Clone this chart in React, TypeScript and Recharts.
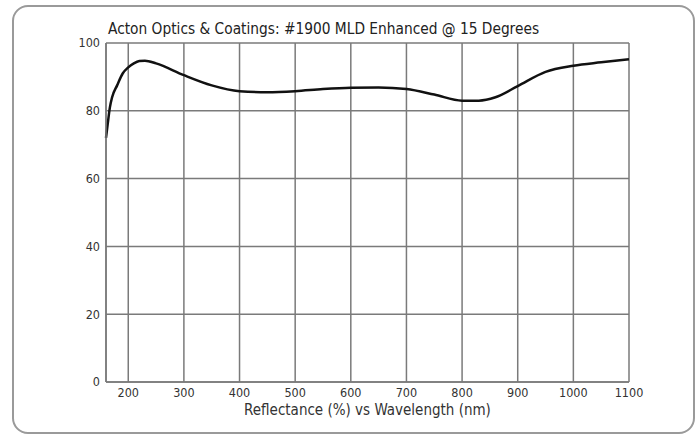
import { LineChart, Line, XAxis, YAxis, CartesianGrid } from 'recharts';

const wavelengths = [
  160, 163, 167, 171, 180, 190, 200, 210, 220, 230, 250, 300, 350, 400, 450, 500,
  550, 600, 650, 700, 750, 800, 830, 860, 900, 950, 1000, 1050, 1100,
];
const reflectance = [
  72, 76, 81, 84, 87.5, 91, 92.8, 94, 94.7, 94.8, 94, 90.5, 87.5, 85.8, 85.5, 85.8,
  86.4, 86.8, 86.9, 86.4, 84.8, 83, 83, 84, 87.3, 91.5, 93.3, 94.3, 95.2,
];
const xTicks = [200, 300, 400, 500, 600, 700, 800, 900, 1000, 1100];
const yTicks = [0, 20, 40, 60, 80, 100];

const title = 'Acton Optics & Coatings: #1900 MLD Enhanced @ 15 Degrees';
const xLabel = 'Reflectance (%)  vs  Wavelength (nm)';

const data = wavelengths.map((w, i) => ({ w, r: reflectance[i] }));

const FONT = '"Liberation Sans Narrow", "DejaVu Sans Condensed", "Open Sans", sans-serif';

export default function App() {
  return (
    <div style={{ position: 'absolute', left: 0, top: 0, width: 697, height: 434, background: '#fff' }}>
      <div
        style={{
          position: 'absolute', left: 12, top: 5, width: 679, height: 425,
          border: '2px solid #9a9a9a', borderRadius: 16,
        }}
      />
      <div
        style={{
          position: 'absolute', left: 108, top: 20, fontFamily: FONT, fontSize: 15.3,
          color: '#222', whiteSpace: 'pre',
        }}
      >
        {title}
      </div>
      <div style={{ position: 'absolute', left: 0, top: 0 }}>
        <LineChart width={697} height={434} data={data} margin={{ top: 43, right: 68, bottom: 22, left: 76 }}>
          <CartesianGrid stroke="#7a7a7a" strokeWidth={1.5} />
          <XAxis
            dataKey="w" type="number" domain={[160, 1100]} ticks={xTicks} interval={0}
            stroke="#7a7a7a" strokeWidth={1.5} tickLine={false} tickSize={0} tickMargin={6}
            tick={{ fill: '#333', fontSize: 12.5, fontFamily: FONT }} height={30}
            label={{ value: xLabel, position: 'insideBottom', offset: -3, fill: '#333', fontSize: 15, fontFamily: FONT, style: { whiteSpace: 'pre' } }}
          />
          <YAxis
            type="number" domain={[0, 100]} ticks={yTicks} interval={0} width={30}
            stroke="#7a7a7a" strokeWidth={1.5} tickLine={false} tickSize={0} tickMargin={6}
            tick={{ fill: '#333', fontSize: 12.5, fontFamily: FONT }}
          />
          <Line
            dataKey="r" type="monotone" stroke="#111" strokeWidth={2.5} dot={false}
            isAnimationActive={false}
          />
        </LineChart>
      </div>
    </div>
  );
}
